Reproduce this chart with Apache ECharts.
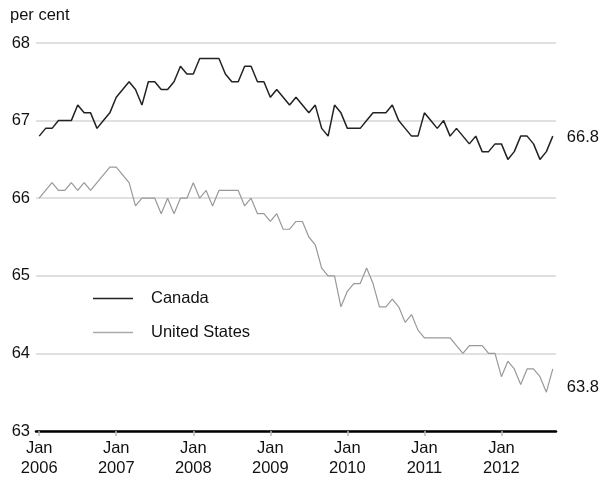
<!DOCTYPE html>
<html>
<head>
<meta charset="utf-8">
<script src="https://cdn.jsdelivr.net/npm/echarts@6/dist/echarts.min.js"></script>
<style>
html,body{margin:0;padding:0;background:#fff;}
#chart{width:607px;height:483px;}
</style>
</head>
<body>
<div id="chart"></div>
<script>
// Months Jan 2006 .. Sep 2012
const years = [2006, 2007, 2008, 2009, 2010, 2011, 2012];
const monthNames = ['Jan','Feb','Mar','Apr','May','Jun','Jul','Aug','Sep','Oct','Nov','Dec'];
const categories = [];
for (const y of years) {
  for (let m = 0; m < 12; m++) {
    if (y === 2012 && m > 8) break;
    categories.push(monthNames[m] + ' ' + y);
  }
}

const canada = [
  66.8, 66.9, 66.9, 67.0, 67.0, 67.0, 67.2, 67.1, 67.1, 66.9, 67.0, 67.1,
  67.3, 67.4, 67.5, 67.4, 67.2, 67.5, 67.5, 67.4, 67.4, 67.5, 67.7, 67.6,
  67.6, 67.8, 67.8, 67.8, 67.8, 67.6, 67.5, 67.5, 67.7, 67.7, 67.5, 67.5,
  67.3, 67.4, 67.3, 67.2, 67.3, 67.2, 67.1, 67.2, 66.9, 66.8, 67.2, 67.1,
  66.9, 66.9, 66.9, 67.0, 67.1, 67.1, 67.1, 67.2, 67.0, 66.9, 66.8, 66.8,
  67.1, 67.0, 66.9, 67.0, 66.8, 66.9, 66.8, 66.7, 66.8, 66.6, 66.6, 66.7,
  66.7, 66.5, 66.6, 66.8, 66.8, 66.7, 66.5, 66.6, 66.8
];

const unitedStates = [
  66.0, 66.1, 66.2, 66.1, 66.1, 66.2, 66.1, 66.2, 66.1, 66.2, 66.3, 66.4,
  66.4, 66.3, 66.2, 65.9, 66.0, 66.0, 66.0, 65.8, 66.0, 65.8, 66.0, 66.0,
  66.2, 66.0, 66.1, 65.9, 66.1, 66.1, 66.1, 66.1, 65.9, 66.0, 65.8, 65.8,
  65.7, 65.8, 65.6, 65.6, 65.7, 65.7, 65.5, 65.4, 65.1, 65.0, 65.0, 64.6,
  64.8, 64.9, 64.9, 65.1, 64.9, 64.6, 64.6, 64.7, 64.6, 64.4, 64.5, 64.3,
  64.2, 64.2, 64.2, 64.2, 64.2, 64.1, 64.0, 64.1, 64.1, 64.1, 64.0, 64.0,
  63.7, 63.9, 63.8, 63.6, 63.8, 63.8, 63.7, 63.5, 63.8
];

const yMin = 63, yMax = 68, yStep = 1;
const FONT = '"Liberation Sans", Arial, Helvetica, sans-serif';
const FS = 16.5;

const chart = echarts.init(document.getElementById('chart'), null, {renderer: 'canvas'});
const isJan = (idx) => idx % 12 === 0;

chart.setOption({
  animation: false,
  backgroundColor: '#ffffff',
  textStyle: {fontFamily: FONT},
  graphic: [{
    type: 'text', left: 10, top: 7,
    style: {text: 'per cent', fontSize: FS, fontFamily: FONT, fill: '#111'}
  }],
  legend: {
    orient: 'vertical',
    left: 88, top: 285,
    itemWidth: 40, itemHeight: 17, itemGap: 17,
    icon: 'path://M0,6 L42,6 L42,7.5 L0,7.5 Z',
    textStyle: {fontSize: FS, color: '#111', fontFamily: FONT, lineHeight: 17, padding: [0, 0, 0, 13]},
    data: [
      {name: 'Canada', itemStyle: {color: '#222'}},
      {name: 'United States', itemStyle: {color: '#aaa'}}
    ]
  },
  grid: {left: 36, right: 51, top: 43, bottom: 52, containLabel: false},
  xAxis: {
    type: 'category',
    data: categories,
    boundaryGap: true,
    axisLine: {show: true, lineStyle: {color: '#000', width: 2.5}},
    axisTick: {show: true, alignWithLabel: true, interval: (i) => isJan(i), length: 5, lineStyle: {color: '#bbb', width: 1.5}},
    axisLabel: {
      interval: (i) => isJan(i),
      formatter: (v) => { const p = v.split(' '); return p[0] + '\n' + p[1]; },
      fontSize: FS, color: '#111', fontFamily: FONT, lineHeight: 20, margin: 7
    },
    splitLine: {show: false}
  },
  yAxis: {
    type: 'value',
    min: yMin, max: yMax, interval: yStep,
    axisLine: {show: false},
    axisTick: {show: false},
    axisLabel: {fontSize: FS, color: '#111', fontFamily: FONT, margin: 6},
    splitLine: {show: true, lineStyle: {color: '#d6d6d6', width: 1.5}}
  },
  series: [
    {
      name: 'Canada', type: 'line', data: canada,
      symbol: 'none', lineStyle: {color: '#222', width: 1.5}, itemStyle: {color: '#222'},
      z: 3,
      endLabel: {show: true, formatter: (p) => p.value.toFixed(1), fontSize: FS, color: '#111', fontFamily: FONT, distance: 14, offset: [0, 1]}
    },
    {
      name: 'United States', type: 'line', data: unitedStates,
      symbol: 'none', lineStyle: {color: '#999', width: 1.2}, itemStyle: {color: '#aaa'},
      z: 2,
      endLabel: {show: true, formatter: (p) => p.value.toFixed(1), fontSize: FS, color: '#111', fontFamily: FONT, distance: 14, offset: [0, 19]}
    }
  ]
});
</script>
</body>
</html>
